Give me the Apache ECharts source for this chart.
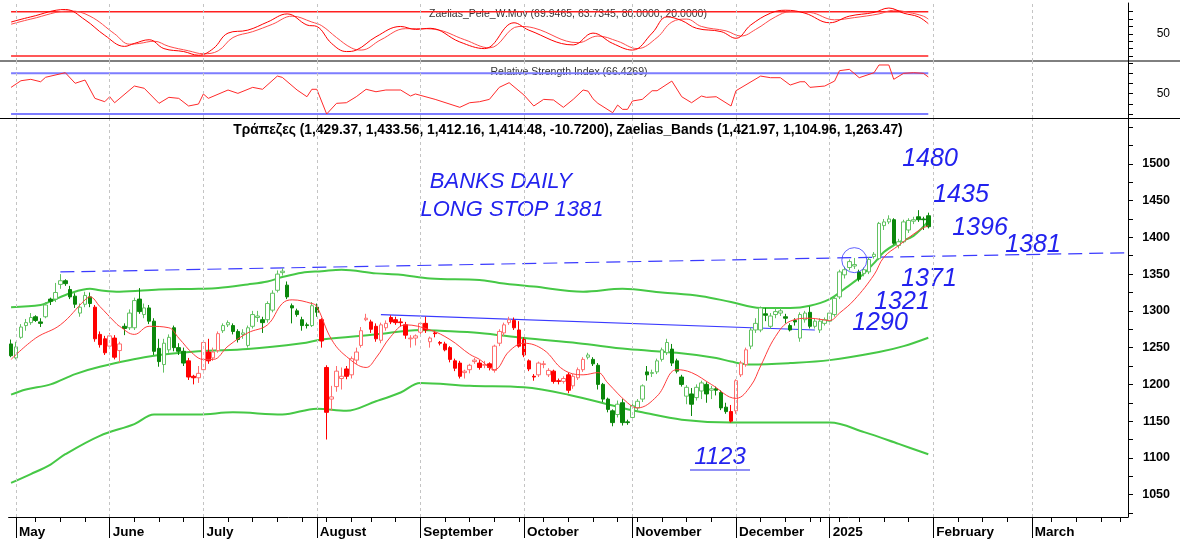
<!DOCTYPE html>
<html><head><meta charset="utf-8">
<script src="https://cdn.jsdelivr.net/npm/echarts@6/dist/echarts.min.js"></script>
<style>html,body{margin:0;padding:0;background:#fff}#c{width:1180px;height:546px}</style>
</head><body><div id="c"></div>
<script>
// ---------- DATA ----------
const opens = [1255,1236,1264,1280,1284,1292,1285,1292,1316,1316,1336,1341,1329,1320,1297,1309,1319,1305,1268,1262,1252,1263,1246,1279,1277,1277,1316,1295,1304,1286,1249,1227,1247,1277,1250,1245,1232,1211,1209,1220,1244,1236,1246,1273,1281,1280,1272,1268,1253,1279,1291,1288,1288,1301,1328,1352,1335,1307,1300,1288,1281,1280,1305,1288,1223,1180,1197,1208,1221,1213,1233,1253,1288,1285,1279,1260,1277,1291,1288,1285,1281,1262,1263,1271,1283,1258,1270,1257,1255,1250,1232,1229,1216,1220,1231,1229,1226,1228,1219,1256,1270,1284,1287,1274,1261,1232,1211,1213,1227,1213,1218,1205,1204,1213,1198,1209,1220,1237,1234,1226,1200,1180,1164,1159,1175,1149,1155,1168,1180,1217,1215,1217,1234,1243,1248,1232,1210,1184,1187,1182,1191,1200,1192,1194,1189,1169,1163,1164,1213,1227,1252,1274,1274,1296,1279,1295,1297,1292,1280,1287,1263,1288,1298,1279,1274,1283,1286,1295,1319,1349,1359,1361,1353,1351,1353,1374,1371,1416,1421,1424,1389,1394,1410,1422,1428,1425,1429.37];
const highs = [1261,1258,1282,1289,1297,1294,1290,1312,1318,1338,1350,1343,1334,1324,1310,1326,1325,1308,1272,1266,1270,1267,1258,1283,1302,1318,1331,1310,1308,1290,1262,1262,1268,1280,1256,1250,1236,1213,1225,1260,1262,1250,1272,1283,1287,1283,1275,1275,1280,1300,1300,1292,1313,1328,1355,1358,1340,1310,1303,1292,1284,1312,1310,1290,1226,1198,1225,1223,1225,1238,1250,1278,1296,1288,1283,1284,1287,1294,1292,1290,1285,1267,1268,1285,1292,1265,1273,1259,1258,1252,1235,1232,1220,1228,1236,1233,1232,1230,1254,1275,1284,1292,1291,1286,1264,1234,1214,1231,1232,1222,1220,1208,1211,1216,1214,1223,1237,1243,1237,1229,1202,1182,1166,1178,1180,1152,1174,1180,1200,1225,1220,1235,1250,1262,1255,1235,1213,1199,1195,1200,1205,1203,1198,1197,1192,1175,1172,1207,1232,1250,1277,1290,1306,1304,1297,1303,1304,1296,1283,1290,1298,1300,1306,1289,1290,1291,1300,1320,1356,1360,1370,1372,1356,1359,1373,1380,1421,1425,1430,1426,1398,1424,1426,1428,1437,1428,1433.56];
const lows = [1237,1234,1262,1273,1281,1285,1278,1290,1308,1312,1330,1334,1316,1304,1292,1305,1305,1258,1250,1240,1248,1234,1230,1267,1274,1274,1296,1290,1282,1240,1224,1216,1243,1245,1240,1225,1206,1200,1202,1215,1228,1232,1243,1270,1278,1268,1257,1262,1250,1276,1285,1270,1284,1298,1325,1348,1316,1283,1292,1273,1276,1278,1292,1250,1125,1164,1190,1193,1207,1208,1228,1250,1286,1270,1258,1256,1273,1282,1281,1279,1262,1250,1253,1268,1270,1250,1264,1253,1245,1230,1218,1208,1208,1215,1228,1220,1222,1219,1216,1252,1266,1281,1274,1250,1237,1218,1205,1210,1222,1210,1201,1200,1201,1188,1194,1206,1217,1234,1225,1193,1176,1162,1143,1155,1144,1145,1150,1164,1176,1205,1210,1214,1231,1240,1225,1215,1197,1173,1157,1178,1180,1175,1180,1185,1165,1160,1148,1160,1210,1224,1248,1270,1271,1286,1276,1290,1293,1283,1272,1280,1258,1284,1276,1276,1270,1280,1283,1292,1316,1344,1355,1357,1340,1347,1350,1371,1369,1410,1418,1390,1385,1392,1406,1418,1421,1410,1412.16];
const closes = [1239,1251,1278,1284,1291,1287,1283,1308,1313,1325,1341,1337,1319,1309,1305,1321,1310,1262,1254,1243,1266,1237,1255,1276,1297,1314,1299,1304,1286,1245,1231,1256,1264,1250,1245,1229,1210,1209,1215,1257,1232,1244,1269,1280,1284,1272,1261,1270,1277,1295,1293,1284,1310,1324,1350,1354,1319,1304,1295,1280,1280,1307,1298,1259,1162,1183,1218,1211,1211,1235,1244,1273,1290,1275,1262,1281,1283,1285,1284,1284,1267,1263,1266,1283,1274,1263,1269,1256,1247,1234,1222,1211,1218,1226,1233,1223,1227,1223,1252,1272,1281,1288,1277,1252,1240,1221,1210,1229,1228,1219,1204,1204,1208,1192,1211,1220,1234,1240,1228,1200,1180,1166,1148,1173,1148,1148,1171,1177,1198,1213,1216,1232,1247,1257,1229,1218,1200,1196,1173,1196,1202,1187,1194,1192,1168,1163,1150,1205,1229,1247,1274,1283,1304,1294,1293,1299,1300,1290,1274,1285,1295,1297,1279,1286,1286,1288,1297,1317,1353,1356,1367,1363,1343,1356,1370,1377,1419,1421,1425,1392,1394,1421,1423,1424,1424,1424,1414.48];
// trend-colour signal of the source chart (red periods), by candle index
const redRanges = [[17,22],[36,42],[63,116],[146,149]];

// Zaelias bands and short average: [candle index, value]
const upperBand = [[0,1305],[6,1308],[8,1313],[12,1324],[16,1330],[18,1328],[22,1326],[30,1329],[38,1330],[42,1331],[48,1336],[52,1340],[55,1346],[59,1352],[63,1354],[67,1356],[74,1351],[79,1349],[85,1344],[95,1342],[99,1338],[106,1333],[116,1326],[124,1330],[132,1325],[140,1320],[146,1312],[152,1304],[158,1304],[162,1307],[166,1316],[169,1330],[172,1345],[175,1365],[177,1380],[180,1393],[183,1402],[186,1421.97]];
const middleBand = [[0,1186],[3,1193],[8,1200],[13,1214],[18,1224],[28,1238],[38,1245],[48,1248],[59,1256],[63,1261],[74,1268],[83,1274],[87,1273],[95,1270],[104,1263],[115,1256],[125,1248],[135,1243],[143,1236],[146,1231],[150,1227],[158,1229],[166,1233],[176,1244],[181,1252],[186,1263.47]];
const lowerBand = [[0,1066],[4,1078],[8,1091],[11,1105],[18,1130],[25,1146],[29,1159],[38,1159],[45,1162],[55,1159],[62,1167],[68,1164],[74,1177],[79,1189],[83,1202],[93,1198],[104,1196],[113,1186],[124,1168],[128,1162],[136,1152],[146,1148],[166,1148],[173,1135],[180,1119],[186,1104.96]];
const shortAvg = [[0,1234],[5,1263],[10,1281],[15,1315],[16,1319],[18,1306],[21,1285],[22,1279],[25,1268],[28,1279],[32,1277],[34,1263],[37,1241],[39,1234],[41,1234],[44,1252],[48,1270],[52,1281],[55,1310],[57,1315],[61,1310],[62,1306],[65,1261],[68,1238],[72,1223],[74,1236],[77,1265],[80,1281],[85,1274],[89,1261],[93,1241],[95,1234],[98,1220],[101,1245],[104,1256],[108,1247],[112,1220],[116,1213],[119,1216],[121,1202],[125,1175],[127,1168],[131,1184],[135,1220],[138,1216],[142,1200],[147,1181],[150,1198],[152,1225],[155,1265],[158,1286],[162,1290],[166,1287],[168,1297],[171,1315],[175,1349],[177,1373],[180,1389],[184,1409],[186,1416]];

// Zaelias_Pele_W.Mov oscillator (two lines)
const oscFast = [[0,66],[4,73],[11,83],[15,69],[19,48],[23,33],[25,37],[28,42],[31,30],[35,26],[38,21],[41,30],[44,51],[48,55],[52,66],[56,77],[60,62],[62,60],[65,37],[68,26],[70,28],[74,46],[79,60],[82,56],[85,57.5],[91,39],[96,30],[102,65],[105,55],[114,35],[118,51],[122,37],[126,28],[130,51],[133,73],[136,68],[139,57.5],[144,53],[147,44],[150,62],[154,78],[157,82],[161,78],[166,65],[170,74],[175,79],[178,85],[181,78],[184,73],[186,63.73]];
const oscSlow = [[0,63],[4,70],[12,81],[16,74],[21,50],[24,36],[26,37],[29,40],[32,33],[36,27],[39,23],[42,27],[45,45],[49,53],[53,63],[57,74],[61,66],[63,61],[66,45],[69,31],[71,28],[75,42],[80,57],[83,57],[86,56],[92,42],[97,31],[103,60],[106,58],[115,38],[119,47],[123,40],[127,30],[131,45],[134,66],[137,70],[140,60],[145,54],[148,47],[151,56],[155,73],[158,80],[162,79],[167,69],[171,72],[176,77],[179,82],[182,79],[185,74],[186,69.95]];
const oscLevels = [80, 20];
// RSI
const rsi = [[0,56.2],[2,62.7],[4,64.1],[6,61.7],[7,66.1],[11,70.6],[13,60.2],[15,63.4],[17,45.4],[19,42.1],[20,47],[21,41.1],[25,57.5],[27,55.3],[30,40.5],[32,46.4],[34,45.4],[36,37.9],[38,39.8],[39,49.7],[40,45.4],[44,53.6],[46,50.3],[49,56.2],[51,54.3],[54,67.3],[55,66],[58,53.6],[60,47],[61,54.3],[62,54.3],[64,30],[66,40.5],[68,41.1],[70,47],[72,54.3],[74,51.9],[76,53.6],[79,53.6],[81,47.7],[82,49.7],[86,44.4],[91,36.6],[93,41.1],[95,42.1],[97,44.4],[99,56.2],[101,60.8],[104,48.7],[106,37.9],[108,44.4],[110,43.8],[112,36.6],[114,44.4],[116,53.6],[117,52.5],[118,45],[119,40.5],[122,31.3],[123,38.8],[124,34.6],[125,34.6],[126,42.8],[128,44.4],[130,52.9],[131,52.9],[134,62.4],[136,47],[138,41.1],[140,47.7],[141,46.4],[143,47],[146,37.9],[147,52.9],[152,67.3],[154,65.7],[156,65.7],[158,58.5],[160,61.7],[161,61.7],[162,56.2],[165,57.5],[167,62.4],[168,72.6],[170,73.9],[172,65.7],[175,70.6],[176,78.2],[178,78.2],[179,64.1],[181,70],[183,70.6],[185,70],[186,66.43]];
const rsiLevels = [70, 30];

// drawn trend lines
const longStopLine = [[10,1353],[226,1379]];
const resistLine = [[75,1295],[163,1274]];
const circled = [[171,1369]];

// axis ticks / labels
const monthIdx = [1,20,39,62,83,104,126,147,166,187,207];
const monthLabels = ['May','June','July','August','September','October','November','December','2025','February','March'];
const priceLabels = [1050,1100,1150,1200,1250,1300,1350,1400,1450,1500];
const priceTicks = [1025,1050,1075,1100,1125,1150,1175,1200,1225,1250,1275,1300,1325,1350,1375,1400,1425,1450,1475,1500,1525,1550];
const holidays = ['2024-05-01','2024-05-02','2024-05-03','2024-05-06','2024-06-24','2024-08-15','2024-10-28','2024-12-24','2024-12-25','2024-12-26','2025-01-01','2025-01-06','2025-03-03','2025-03-25'];
const titleText = 'Τράπεζες (1,429.37, 1,433.56, 1,412.16, 1,414.48, -10.7200), Zaelias_Bands (1,421.97, 1,104.96, 1,263.47)';
const oscTitle = 'Zaelias_Pele_W.Mov (69.9465, 63.7345, 80.0000, 20.0000)';
const rsiTitle = 'Relative Strength Index (66.4269)';

// ---------- BUILD ----------
const NCAT = 227;
const hol = new Set(holidays);
const categories = [];
{ const d = new Date(Date.UTC(2024,3,30));
  while (categories.length < NCAT) {
    const wd = d.getUTCDay(); const s = d.toISOString().slice(0,10);
    if (wd !== 0 && wd !== 6 && !hol.has(s)) categories.push(s);
    d.setUTCDate(d.getUTCDate()+1);
  } }
const weekSet = new Set();
categories.forEach((s,i)=>{ if(i===0) return; const a=new Date(categories[i-1]+'T00:00:00Z'), b=new Date(s+'T00:00:00Z');
  if (b.getUTCDay() < a.getUTCDay() || (b-a) >= 7*86400000) weekSet.add(i); });
const monthSet = new Set(monthIdx);
const lastIdx = closes.length - 1;

const isRed = i => redRanges.some(([a,b]) => i>=a && i<=b);
const candleData = opens.map((o,i)=>{
  const red = isRed(i);
  const down = closes[i] < o;
  const edge = red ? (down ? '#ff0000' : '#ff6e6e') : (down ? '#0b870b' : '#62c262');
  const fill = down ? edge : '#ffffff';
  return {
    value:[o, closes[i], lows[i], highs[i]],
    itemStyle:{color:fill, color0:fill, borderColor:edge, borderColor0:edge, borderColorDoji:edge, borderWidth:1}
  };
});

const GL = 8.6, GR = 52;
const gridLineMark = {
  silent:true, symbol:['none','none'], label:{show:false},
  lineStyle:{color:'#c4c4c4', type:[3,3], width:1},
  data: monthIdx.map(i=>({xAxis: categories[i]})), animation:false
};
const lvl = (v)=>[[0,v],[lastIdx,v]];
const flat = (grid, data, color, width, extra) => Object.assign({
  type:'line', xAxisIndex:grid, yAxisIndex:grid, data, symbol:'none', silent:true,
  lineStyle:{color, width}, animation:false
}, extra||{});

const txt = (text, x, y, size, opts) => Object.assign({
  type:'text', x, y, silent:true,
  style:Object.assign({text, fill:'#2222ee', font:'italic '+size+'px "Liberation Sans"', textAlign:'center', textVerticalAlign:'middle', align:'center', verticalAlign:'middle'}, opts||{})
});
const plain = v => String(v);

const chart = echarts.init(document.getElementById('c'), null, {renderer:'canvas'});
chart.setOption({
  animation:false,
  backgroundColor:'#ffffff',
  grid:[
    {left:GL, right:GR, top:3, height:58},
    {left:GL, right:GR, top:61, height:57},
    {left:GL, right:GR, top:119, height:398}
  ],
  xAxis:[
    {type:'category', gridIndex:0, data:categories, show:false},
    {type:'category', gridIndex:1, data:categories, show:false},
    {type:'category', gridIndex:2, data:categories,
      axisLine:{show:true, lineStyle:{color:'#000', width:1}},
      axisTick:{show:true, alignWithLabel:true, interval:(i)=>monthSet.has(i), length:21, lineStyle:{color:'#000'}},
      axisLabel:{show:true, interval:(i)=>monthSet.has(i), formatter:(v,i)=>monthLabels[monthIdx.indexOf(i)] || '',
        align:'left', padding:[0,0,0,3], margin:8, fontWeight:'bold', fontSize:13.5, fontFamily:'Liberation Sans', color:'#000'},
      splitLine:{show:false}},
    {type:'category', gridIndex:2, data:categories, position:'bottom',
      axisLine:{show:false}, axisLabel:{show:false}, splitLine:{show:false},
      axisTick:{show:true, alignWithLabel:true, interval:(i)=>weekSet.has(i), length:5, lineStyle:{color:'#000'}}}
  ],
  yAxis:[
    {type:'value', gridIndex:0, position:'right', min:13.2, max:91.8, splitLine:{show:false},
      axisLine:{show:true, lineStyle:{color:'#000'}},
      axisTick:{show:true, customValues:[20,30,40,50,60,70,80], length:5, lineStyle:{color:'#000'}},
      axisLabel:{customValues:[50], formatter:plain, align:'right', margin:42, fontSize:12, fontFamily:'Liberation Sans', color:'#000'}},
    {type:'value', gridIndex:1, position:'right', min:26.1, max:82.1, splitLine:{show:false},
      axisLine:{show:true, lineStyle:{color:'#000'}},
      axisTick:{show:true, customValues:[30,40,50,60,70,80], length:5, lineStyle:{color:'#000'}},
      axisLabel:{customValues:[50], formatter:plain, align:'right', margin:42, fontSize:12, fontFamily:'Liberation Sans', color:'#000'}},
    {type:'value', gridIndex:2, position:'right', min:1019.6, max:1561, splitLine:{show:false},
      axisLine:{show:true, lineStyle:{color:'#000'}},
      axisTick:{show:true, customValues:priceTicks, length:5, lineStyle:{color:'#000'}},
      axisLabel:{customValues:priceLabels, formatter:plain, align:'right', margin:42, fontSize:12.5, fontWeight:'bold', fontFamily:'Liberation Sans', color:'#000'}}
  ],
  series:[
    // oscillator panel
    flat(0, lvl(oscLevels[0]), '#ff2020', 1.5, {markLine:gridLineMark}),
    flat(0, lvl(oscLevels[1]), '#ff2020', 1.5),
    flat(0, oscSlow, '#ff4a4a', 1, {smooth:0.4}),
    flat(0, oscFast, '#ff0000', 1, {smooth:0.4}),
    // RSI panel
    flat(1, lvl(rsiLevels[0]), '#7d7dff', 2, {markLine:gridLineMark}),
    flat(1, lvl(rsiLevels[1]), '#7d7dff', 2),
    flat(1, rsi, '#ff2a2a', 1),
    // main panel
    flat(2, [], '#000', 0, {markLine:gridLineMark, z:1}),
    flat(2, upperBand, '#46c846', 2, {smooth:0.35}),
    flat(2, middleBand, '#46c846', 2, {smooth:0.35}),
    flat(2, lowerBand, '#46c846', 2, {smooth:0.35}),
    flat(2, longStopLine, '#3a3aff', 1, {lineStyle:{color:'#3a3aff', width:1.2, type:[14,7]}}),
    flat(2, resistLine, '#3a3aff', 1, {lineStyle:{color:'#3a3aff', width:1.2}}),
    {type:'candlestick', xAxisIndex:2, yAxisIndex:2, data:candleData, barWidth:4, silent:true,
      itemStyle:{borderWidth:1}, z:3, animation:false},
    flat(2, shortAvg, '#ff3c3c', 1, {smooth:0.4, z:4}),
    {type:'scatter', xAxisIndex:2, yAxisIndex:2, data:circled, symbol:'circle', symbolSize:25, silent:true, z:5,
      itemStyle:{color:'rgba(0,0,0,0)', borderColor:'#3a3aff', borderWidth:1}}
  ],
  graphic:[
    {type:'line', silent:true, shape:{x1:0, y1:61, x2:1180, y2:61}, style:{stroke:'#000', lineWidth:1}},
    {type:'line', silent:true, shape:{x1:0, y1:118.5, x2:1180, y2:118.5}, style:{stroke:'#000', lineWidth:1}},
    txt(oscTitle, 568, 14, 10.5, {fill:'#333', font:'10.5px "Liberation Sans"'}),
    txt(rsiTitle, 569, 72, 10.5, {fill:'#333', font:'10.5px "Liberation Sans"'}),
    txt(titleText, 568, 130, 13.8, {fill:'#000', font:'bold 13.8px "Liberation Sans"'}),
    txt('BANKS DAILY', 501, 182, 22),
    txt('LONG STOP 1381', 512, 210, 22),
    txt('1480', 930, 159, 25),
    txt('1435', 961, 195, 25),
    txt('1396', 980, 228, 25),
    txt('1381', 1033, 245, 25),
    txt('1371', 929, 279, 25),
    txt('1321', 902, 302, 25),
    txt('1290', 880, 323, 25),
    txt('1123', 720, 457, 24),
    {type:'line', silent:true, shape:{x1:690, y1:470, x2:750, y2:470}, style:{stroke:'#2222ee', lineWidth:1.2}}
  ]
});
</script></body></html>
